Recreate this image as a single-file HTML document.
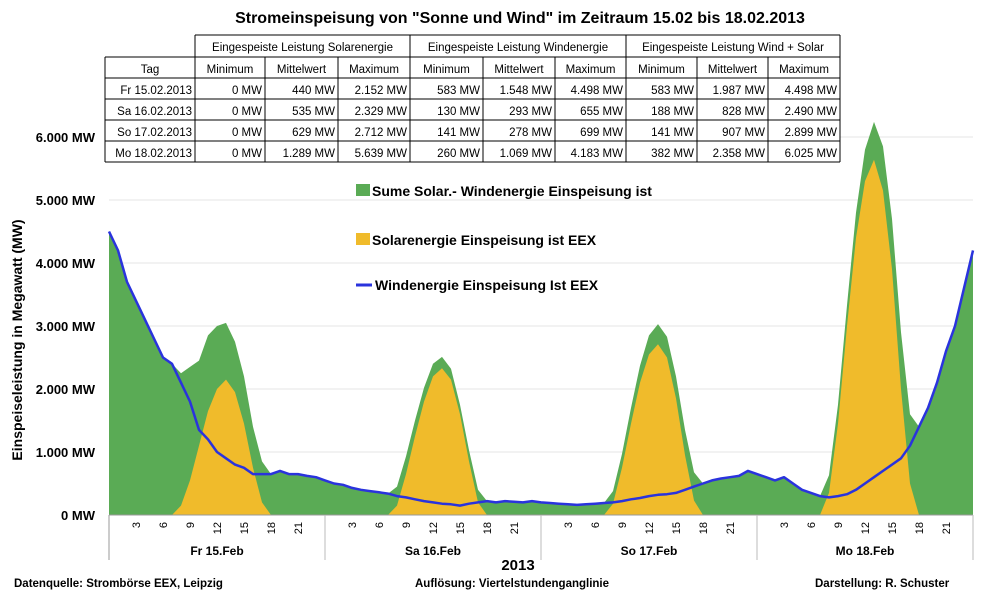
<!DOCTYPE html>
<html><head><meta charset="utf-8"><style>
body{margin:0;background:#fff;}
svg text{font-family:"Liberation Sans",sans-serif;}
</style></head><body>
<svg id="c" width="981" height="600" viewBox="0 0 981 600" xmlns="http://www.w3.org/2000/svg">
<text x="520" y="23" text-anchor="middle" font-size="16" font-weight="bold">Stromeinspeisung von "Sonne und Wind" im Zeitraum 15.02 bis 18.02.2013</text>
<g id="grid"></g>
<g id="plot"></g>
<g id="axes"></g>
<g id="tbl"></g>
<g font-size="14" font-weight="bold">
<rect x="356" y="184" width="14" height="12" fill="#5aab55"/>
<text x="372" y="196">Sume Solar.- Windenergie Einspeisung ist</text>
<rect x="356" y="233" width="14" height="12" fill="#f0bb2b"/>
<text x="372" y="245">Solarenergie Einspeisung ist EEX</text>
<line x1="356" y1="285" x2="372" y2="285" stroke="#2a33dd" stroke-width="3"/>
<text x="375" y="290">Windenergie Einspeisung Ist EEX</text>
</g>
<text transform="translate(22,340) rotate(-90)" text-anchor="middle" font-size="14" font-weight="bold">Einspeiseleistung in Megawatt (MW)</text>
<text x="518" y="570" text-anchor="middle" font-size="15" font-weight="bold">2013</text>
<text x="14" y="587" font-size="11.5" font-weight="bold">Datenquelle:  Strombörse EEX, Leipzig</text>
<text x="415" y="587" font-size="11.5" font-weight="bold">Auflösung: Viertelstundenganglinie</text>
<text x="815" y="587" font-size="11.5" font-weight="bold">Darstellung: R. Schuster</text>
</svg>
<script>
const days=["Fr 15.Feb","Sa 16.Feb","So 17.Feb","Mo 18.Feb"];
const hourTicks=["3","6","9","12","15","18","21"];
const yTicks=[0,1000,2000,3000,4000,5000,6000];
const yTickLabels=["0 MW","1.000 MW","2.000 MW","3.000 MW","4.000 MW","5.000 MW","6.000 MW"];
const wind=[4500,4200,3700,3400,3100,2800,2500,2400,2100,1800,1350,1200,1000,900,800,750,650,650,650,700,650,650,620,600,
550,500,480,430,400,380,360,340,300,280,250,220,200,180,170,150,180,200,220,200,220,210,200,220,
200,190,180,170,160,170,180,190,200,220,250,270,300,320,330,350,400,450,500,550,580,600,620,700,
650,600,550,600,500,400,350,300,280,300,330,400,500,600,700,800,900,1100,1400,1700,2100,2600,3000,3600,4200];
const solar=[0,0,0,0,0,0,0,0,150,550,1100,1650,2000,2150,1950,1450,750,200,0,0,0,0,0,0,
0,0,0,0,0,0,0,0,150,650,1250,1800,2200,2330,2150,1600,850,200,0,0,0,0,0,0,
0,0,0,0,0,0,0,0,180,750,1450,2100,2550,2710,2500,1850,950,230,0,0,0,0,0,0,
0,0,0,0,0,0,0,0,350,1450,3000,4400,5300,5640,5150,3900,2000,500,0,0,0,0,0,0,0];
const tableHead=["Tag","Minimum","Mittelwert","Maximum","Minimum","Mittelwert","Maximum","Minimum","Mittelwert","Maximum"];
const tableGroups=["Eingespeiste Leistung Solarenergie","Eingespeiste Leistung Windenergie","Eingespeiste Leistung Wind  + Solar"];
const tableRows=[
["Fr 15.02.2013","0 MW","440 MW","2.152 MW","583 MW","1.548 MW","4.498 MW","583 MW","1.987 MW","4.498 MW"],
["Sa 16.02.2013","0 MW","535 MW","2.329 MW","130 MW","293 MW","655 MW","188 MW","828 MW","2.490 MW"],
["So 17.02.2013","0 MW","629 MW","2.712 MW","141 MW","278 MW","699 MW","141 MW","907 MW","2.899 MW"],
["Mo 18.02.2013","0 MW","1.289 MW","5.639 MW","260 MW","1.069 MW","4.183 MW","382 MW","2.358 MW","6.025 MW"]];
const NS="http://www.w3.org/2000/svg";
const X0=109,X1=973,Y0=515,Y6=137;
const xs=h=>X0+(X1-X0)*h/96;
const ys=v=>Y0-(Y0-Y6)*v/6000;
function mk(tag,attrs,parent,txt){const e=document.createElementNS(NS,tag);for(const k in attrs)e.setAttribute(k,attrs[k]);if(txt!==undefined)e.textContent=txt;parent.appendChild(e);return e;}
const grid=document.getElementById('grid'),plot=document.getElementById('plot'),axes=document.getElementById('axes'),tbl=document.getElementById('tbl');
yTicks.forEach((v,i)=>{
 if(i>0){const l=mk('line',{x1:X0,x2:X1,y1:ys(v),y2:ys(v),stroke:'#e4e4e4','stroke-width':1},grid);
 
 }
 const t=mk('text',{x:X0-14,y:ys(v)+5,'text-anchor':'end','font-size':13,'font-weight':'bold'},axes,yTickLabels[i]);
 
 
});
function area(vals,fill,name){
 let d='M'+xs(0)+','+ys(0);
 vals.forEach((v,i)=>{d+=' L'+xs(i).toFixed(1)+','+ys(v).toFixed(1);});
 d+=' L'+xs(vals.length-1)+','+ys(0)+' Z';
 const p=mk('path',{d:d,fill:fill},plot);
 
 
}
area(wind.map((w,i)=>w+solar[i]),'#5aab55','total-area');
area(solar,'#f0bb2b','solar-area');
let d='';wind.forEach((v,i)=>{d+=(i?' L':'M')+xs(i).toFixed(1)+','+ys(v).toFixed(1);});
const wl=mk('path',{d:d,fill:'none',stroke:'#2a33dd','stroke-width':2.5,'stroke-linejoin':'round'},plot);


mk('line',{x1:X0,x2:X1,y1:Y0,y2:Y0,stroke:'#999'},axes);
mk('line',{x1:X0,x2:X0,y1:Y0,y2:560,stroke:'#999'},axes);
days.forEach((dname,di)=>{
 const xe=xs((di+1)*24);
 mk('line',{x1:xe,x2:xe,y1:Y0,y2:560,stroke:'#bbb'},axes);
 const t=mk('text',{x:xs(di*24+12),y:555,'text-anchor':'middle','font-size':12,'font-weight':'bold'},axes,dname);
 
 
 hourTicks.forEach(h=>{
  const x=xs(di*24+Number(h));
  const ht=mk('text',{transform:`translate(${x+4},522) rotate(-90)`,'text-anchor':'end','font-size':11},axes,h);
  
  
 });
});
// table
const cx=[105,195,265,338,410,483,555,626,697,768,840];
const ry=[35,57,78,99,120,141,162];
mk('rect',{x:105,y:57,width:735,height:105,fill:'#fff'},tbl);
mk('rect',{x:195,y:35,width:645,height:22,fill:'#fff'},tbl);
tableGroups.forEach((g,i)=>{
 const a=cx[1+i*3],b=cx[4+i*3];
 const t=mk('text',{x:(a+b)/2,y:51,'text-anchor':'middle','font-size':11.5},tbl,g);
 
 
 mk('line',{x1:a,x2:b,y1:35,y2:35,stroke:'#000'},tbl);
 mk('line',{x1:b,x2:b,y1:35,y2:162,stroke:'#000'},tbl);
});
mk('line',{x1:195,x2:195,y1:35,y2:162,stroke:'#000'},tbl);
mk('line',{x1:105,x2:105,y1:57,y2:162,stroke:'#000'},tbl);
for(let r=1;r<7;r++)mk('line',{x1:105,x2:840,y1:ry[r],y2:ry[r],stroke:'#000'},tbl);
for(let c=2;c<10;c++)if(c!==4&&c!==7)mk('line',{x1:cx[c],x2:cx[c],y1:57,y2:162,stroke:'#000'},tbl);
tableHead.forEach((h,c)=>{
 const t=mk('text',{x:(cx[c]+cx[c+1])/2,y:73,'text-anchor':'middle','font-size':11.5},tbl,h);
 
 
});
tableRows.forEach((row,r)=>{
 row.forEach((v,c)=>{
  const t=mk('text',{x:cx[c+1]-3,y:ry[r+3]-5,'text-anchor':'end','font-size':11.5},tbl,v);
  
  
 });
});
</script>
</body></html>
